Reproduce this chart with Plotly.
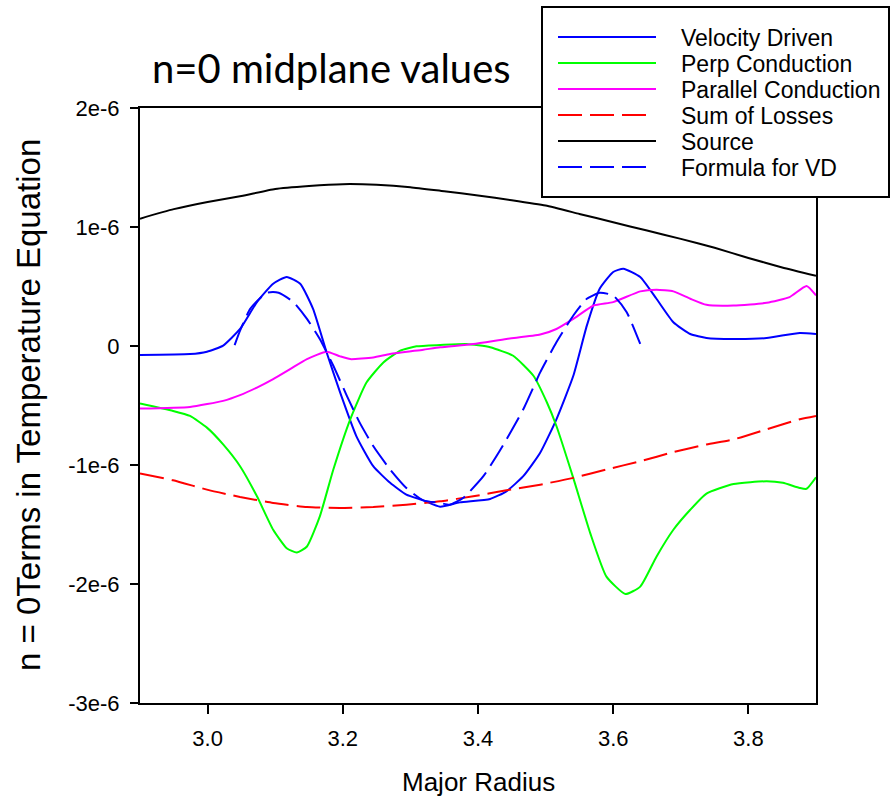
import plotly.graph_objects as go

# ---- data (y values in units of 1e-6) ----
x_vd = [2.90, 2.974, 2.999, 3.023, 3.048, 3.073, 3.097, 3.117, 3.137, 3.156, 3.176, 3.196, 3.22, 3.245,
        3.27, 3.294, 3.319, 3.344, 3.373, 3.418, 3.442, 3.467, 3.492, 3.516, 3.541, 3.561, 3.58, 3.60,
        3.615, 3.64, 3.664, 3.689, 3.714, 3.738, 3.778, 3.827, 3.876, 3.90]
y_vd = [-0.076, -0.068, -0.048, 0.003, 0.143, 0.369, 0.523, 0.58, 0.523, 0.312, -0.053, -0.39, -0.757,
        -1.01, -1.15, -1.249, -1.297, -1.35, -1.314, -1.285, -1.221, -1.094, -0.897, -0.616, -0.25, 0.171,
        0.481, 0.622, 0.65, 0.58, 0.397, 0.2, 0.101, 0.068, 0.059, 0.067, 0.11, 0.101]

x_perp = [2.90, 2.949, 2.974, 2.999, 3.023, 3.048, 3.073, 3.097, 3.117, 3.132, 3.147, 3.166, 3.186, 3.211,
          3.235, 3.26, 3.285, 3.309, 3.344, 3.383, 3.418, 3.452, 3.482, 3.502, 3.516, 3.541, 3.566, 3.59,
          3.618, 3.64, 3.664, 3.689, 3.714, 3.738, 3.778, 3.827, 3.851, 3.876, 3.886, 3.90]
y_perp = [-0.484, -0.546, -0.588, -0.686, -0.827, -1.01, -1.263, -1.544, -1.699, -1.736, -1.685, -1.432,
          -1.038, -0.616, -0.307, -0.138, -0.039, -0.003, 0.008, 0.017, -0.011, -0.082, -0.25, -0.475,
          -0.672, -1.11, -1.572, -1.938, -2.084, -2.022, -1.77, -1.544, -1.376, -1.24, -1.16, -1.137,
          -1.15, -1.193, -1.2, -1.103]

x_par = [2.90, 2.974, 3.023, 3.048, 3.073, 3.097, 3.122, 3.147, 3.176, 3.196, 3.211, 3.245, 3.27, 3.319,
         3.344, 3.393, 3.442, 3.492, 3.516, 3.541, 3.571, 3.60, 3.64, 3.664, 3.689, 3.714, 3.738, 3.778,
         3.827, 3.861, 3.886, 3.90]
y_par = [-0.526, -0.512, -0.461, -0.413, -0.349, -0.278, -0.194, -0.11, -0.048, -0.087, -0.11, -0.096,
         -0.068, -0.031, -0.011, 0.017, 0.059, 0.096, 0.143, 0.228, 0.34, 0.369, 0.459, 0.473, 0.459,
         0.397, 0.346, 0.34, 0.363, 0.411, 0.504, 0.425]

x_sum = [2.90, 2.949, 2.999, 3.048, 3.097, 3.147, 3.196, 3.245, 3.294, 3.344, 3.393, 3.442, 3.492, 3.541,
         3.59, 3.64, 3.689, 3.738, 3.778, 3.827, 3.876, 3.90]
y_sum = [-1.072, -1.128, -1.207, -1.269, -1.319, -1.353, -1.361, -1.353, -1.333, -1.305, -1.263, -1.213,
         -1.165, -1.108, -1.038, -0.968, -0.892, -0.827, -0.785, -0.70, -0.616, -0.588]

x_src = [2.90, 2.95, 3.00, 3.05, 3.10, 3.15, 3.20, 3.25, 3.30, 3.35, 3.40, 3.45, 3.50, 3.55, 3.60, 3.65,
         3.70, 3.75, 3.80, 3.85, 3.90]
y_src = [1.07, 1.15, 1.21, 1.26, 1.32, 1.345, 1.36, 1.355, 1.335, 1.30, 1.265, 1.225, 1.18, 1.11, 1.04,
         0.97, 0.90, 0.825, 0.74, 0.66, 0.59]

x_fvd = [3.04, 3.048, 3.063, 3.087, 3.105, 3.127, 3.147, 3.166, 3.186, 3.206, 3.225, 3.245, 3.27, 3.294,
         3.319, 3.344, 3.358, 3.378, 3.408, 3.432, 3.467, 3.492, 3.516, 3.541, 3.561, 3.58, 3.60, 3.62, 3.64]
y_fvd = [0.008, 0.129, 0.312, 0.447, 0.447, 0.369, 0.228, 0.059, -0.166, -0.419, -0.644, -0.841, -1.038,
         -1.193, -1.297, -1.319, -1.333, -1.277, -1.094, -0.883, -0.532, -0.222, 0.031, 0.256, 0.397,
         0.447, 0.425, 0.284, 0.017]

UNIT = 1e-6
y_tickvals = [-3, -2, -1, 0, 1, 2]
y_ticktext = ["-3e-6", "-2e-6", "-1e-6", "0", "1e-6", "2e-6"]
x_tickvals = [3.0, 3.2, 3.4, 3.6, 3.8]
x_ticktext = ["3.0", "3.2", "3.4", "3.6", "3.8"]

series_names = ["Velocity Driven", "Perp Conduction", "Parallel Conduction", "Sum of Losses", "Source", "Formula for VD"]
series_colors = ["#0000FF", "#00FF00", "#FF00FF", "#FF0000", "#000000", "#0000FF"]
series_dash = ["solid", "solid", "solid", "24px,8px", "solid", "24px,8px"]
series_x = [x_vd, x_perp, x_par, x_sum, x_src, x_fvd]
series_y = [y_vd, y_perp, y_par, y_sum, y_src, y_fvd]

ARIAL = "Liberation Sans, Arial, sans-serif"

fig = go.Figure()
for name, col, dash, xs, ys in zip(series_names, series_colors, series_dash, series_x, series_y):
    fig.add_trace(go.Scatter(x=xs, y=[v * UNIT for v in ys], mode="lines", name=name,
                             line=dict(color=col, width=2, dash=dash, shape="spline", smoothing=0.5),
                             showlegend=False))

W, H = 891, 800
L, R, T, B = 140, 75, 108, 97
pw, ph = W - L - R, H - T - B

def px_x(p):
    return (p - L) / pw

def px_y(p):
    return (H - B - p) / ph

shapes = []
annotations = []
# legend box
shapes.append(dict(type="rect", xref="paper", yref="paper", x0=px_x(542), x1=px_x(889), y0=px_y(197), y1=px_y(7),
                   line=dict(color="black", width=2), fillcolor="white", layer="above"))
leg_y = [37, 63, 89, 115, 141, 167]
for name, col, dash, yy in zip(series_names, series_colors, series_dash, leg_y):
    shapes.append(dict(type="line", xref="paper", yref="paper", x0=px_x(558), x1=px_x(656 if dash == "solid" else 650),
                       y0=px_y(yy), y1=px_y(yy), line=dict(color=col, width=2, dash=dash), layer="above"))
    annotations.append(dict(text=name, xref="paper", yref="paper", x=px_x(679), y=px_y(yy + 1), xanchor="left",
                            yanchor="middle", showarrow=False, font=dict(family=ARIAL, size=23, color="black")))

annotations.append(dict(text="n=0 midplane values", xref="paper", yref="paper", x=px_x(331), y=px_y(68),
                        xanchor="center", yanchor="middle", showarrow=False,
                        font=dict(family="Lato, Carlito, Calibri, sans-serif", size=40, color="black")))
annotations.append(dict(text="Major Radius", xref="paper", yref="paper", x=px_x(478), y=px_y(782),
                        xanchor="center", yanchor="middle", showarrow=False,
                        font=dict(family=ARIAL, size=26, color="black")))
annotations.append(dict(text="n = 0Terms in Temperature Equation", xref="paper", yref="paper", x=px_x(28), y=px_y(405),
                        xanchor="center", yanchor="middle", showarrow=False, textangle=-90,
                        font=dict(family=ARIAL, size=33, color="black")))

fig.update_layout(
    width=W, height=H, margin=dict(l=L, r=R, t=T, b=B, pad=0),
    plot_bgcolor="white", paper_bgcolor="white",
    shapes=shapes, annotations=annotations, showlegend=False,
    xaxis=dict(range=[2.9, 3.9], tickvals=x_tickvals, ticktext=x_ticktext, showgrid=False, zeroline=False,
               showline=True, linecolor="black", linewidth=2, mirror=True, ticks="outside", ticklen=9,
               tickwidth=2, tickcolor="black", tickfont=dict(family=ARIAL, size=22, color="black"),
               ticklabelstandoff=6),
    yaxis=dict(range=[-3 * UNIT, 2 * UNIT], tickvals=[v * UNIT for v in y_tickvals], ticktext=y_ticktext,
               showgrid=False, zeroline=False, showline=True, linecolor="black", linewidth=2, mirror=True,
               ticks="outside", ticklen=8, tickwidth=2, tickcolor="black",
               tickfont=dict(family=ARIAL, size=22, color="black"), ticklabelstandoff=6),
)

fig.write_html("out.html")
